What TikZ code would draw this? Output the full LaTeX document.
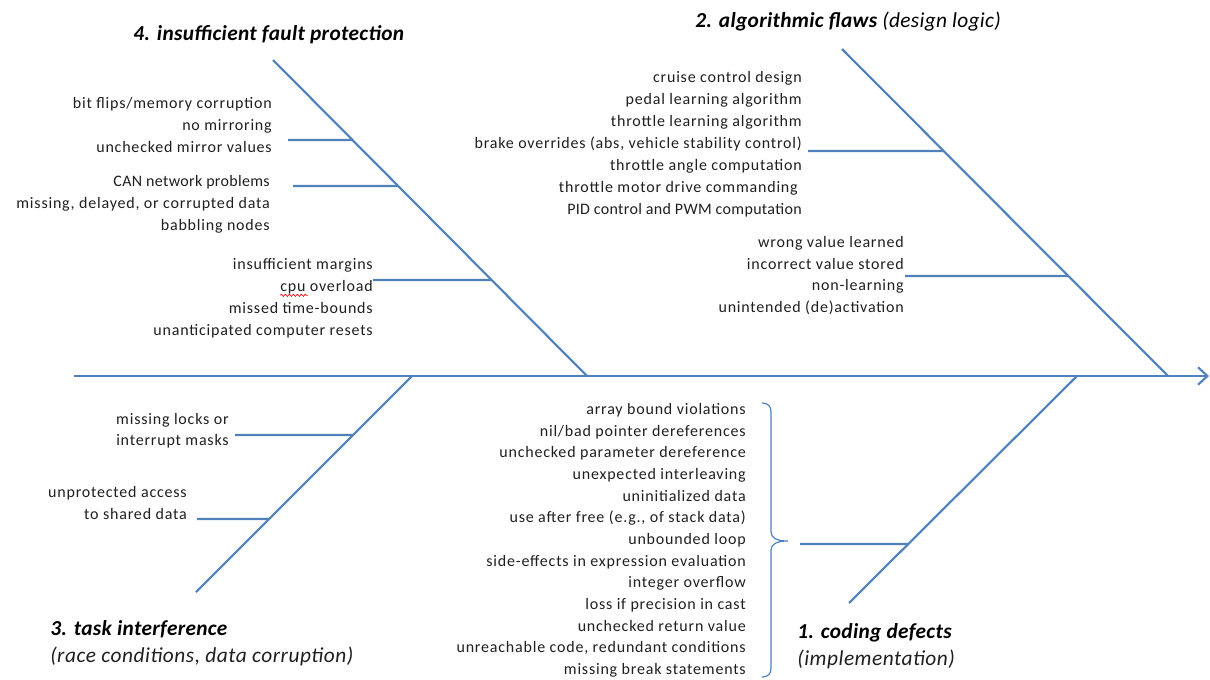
\documentclass[tikz,border=0pt]{standalone}
\usepackage{fontspec}
\setmainfont{Carlito}
\newfontfamily\lblfont[LetterSpace=5]{Carlito}
\newfontfamily\lblfontb[LetterSpace=2]{Carlito}
\newfontfamily\ttlfont[LetterSpace=1.5]{Carlito}
\newfontfamily\subfont[LetterSpace=2.5]{Carlito}
\usetikzlibrary{arrows.meta,calc,decorations.pathmorphing}
\definecolor{bone}{HTML}{4F81BD}
\definecolor{txt}{HTML}{1F1F1F}
\begin{document}
\begin{tikzpicture}[x=0.75pt,y=-0.75pt,
  boneline/.style={draw=bone,line width=1.6pt},
  twig/.style={draw=bone,line width=1.6pt},
  bracel/.style={draw=bone,line width=0.9pt},
  lbl/.style={anchor=east,inner sep=0pt,text=txt,font=\lblfont\fontsize{12pt}{14pt}\selectfont,text height=0.72em,text depth=0.22em,yshift=-1.5pt},
  lblcaps/.style={lbl,font=\lblfontb\fontsize{12pt}{14pt}\selectfont},
  ttl/.style={anchor=west,inner sep=0pt,text=black,font=\ttlfont\fontsize{16pt}{19pt}\selectfont\bfseries\itshape,yshift=-1.2pt},
  subttl/.style={anchor=west,inner sep=0pt,text=txt,font=\subfont\fontsize{16pt}{19pt}\selectfont\itshape,yshift=-1pt}]
\useasboundingbox (0,0) rectangle (1210,679);
% spine and bones
\coordinate (sp0) at (74,376); \coordinate (sp1) at (1209,376);
\coordinate (b4t) at (273,60);  \coordinate (b4b) at (587,376);
\coordinate (b2t) at (842,49);  \coordinate (b2b) at (1168,376);
\coordinate (b3t) at (412,376); \coordinate (b3b) at (196,592);
\coordinate (b1t) at (1077,376); \coordinate (b1b) at (849,603);
\draw[boneline,-{Straight Barb[length=7pt,width=13pt]}] (sp0) -- (sp1);
\draw[boneline] (b4t) -- (b4b);
\draw[boneline] (b2t) -- (b2b);
\draw[boneline] (b3t) -- (b3b);
\draw[boneline] (b1t) -- (b1b);
% twigs
\coordinate (t4a) at (288,140); \coordinate (j4a) at ($(b4t)!0.2532!(b4b)$);
\coordinate (t4b) at (293,186); \coordinate (j4b) at ($(b4t)!0.3987!(b4b)$);
\coordinate (t4c) at (373,280); \coordinate (j4c) at ($(b4t)!0.6962!(b4b)$);
\coordinate (t2a) at (808,151); \coordinate (j2a) at ($(b2t)!0.3119!(b2b)$);
\coordinate (t2b) at (905,276); \coordinate (j2b) at ($(b2t)!0.6942!(b2b)$);
\coordinate (t3a) at (235,435); \coordinate (j3a) at ($(b3t)!0.2731!(b3b)$);
\coordinate (t3b) at (197,519); \coordinate (j3b) at ($(b3t)!0.6620!(b3b)$);
\coordinate (t1a) at (800,544); \coordinate (j1a) at ($(b1t)!0.7401!(b1b)$);
\foreach \a/\b in {t4a/j4a,t4b/j4b,t4c/j4c,t2a/j2a,t2b/j2b,t3a/j3a,t3b/j3b,t1a/j1a}
  \draw[twig] (\a) -- (\b);
% titles
\node[ttl] (h4) at (133,33) {4. insufficient fault protection};
\node[ttl] (h2) at (695,20) {2. algorithmic flaws \textmd{(design logic)}};
\node[ttl] (h3) at (50,628) {3. task interference};
\node[subttl] (h3s) at (50,655) {(race conditions, data corruption)};
\node[ttl] (h1) at (797,631) {1. coding defects};
\node[subttl] (h1s) at (797,658) {(implementation)};
% bone 4 labels
\foreach \t [count=\i from 0] in {{bit flips/memory corruption},{no mirroring},{unchecked mirror values}}
  \node[lbl] (g4a\i) at (272,103+22*\i) {\t};
\node[lblcaps] (g4b0) at (270,181) {CAN network problems};
\node[lbl] (g4b1) at (270,203) {missing, delayed, or corrupted data};
\node[lbl] (g4b2) at (270,225) {babbling nodes};
\foreach \t [count=\i from 0] in {{insufficient margins},{cpu overload},{missed time-bounds},{unanticipated computer resets}}
  \node[lbl] (g4c\i) at (373,264+22*\i) {\t};
\draw[red,line width=0.5pt,decorate,decoration={snake,amplitude=0.8pt,segment length=3pt}]
  ($(g4c1.base west)+(0,4)$) -- ++(28,0);
% bone 2 labels
\foreach \t [count=\i from 0] in {{cruise control design},{pedal learning algorithm},{throttle learning algorithm},{brake overrides (abs, vehicle stability control)},{throttle angle computation}}
  \node[lbl] (g2a\i) at (802,77+22*\i) {\t};
\node[lbl] (g2a5) at (798,187) {throttle motor drive commanding};
\node[lblcaps] (g2a6) at (802,209) {PID control and PWM computation};
\foreach \t [count=\i from 0] in {{wrong value learned},{incorrect value stored},{non-learning},{unintended (de)activation}}
  \node[lbl] (g2b\i) at (904,242+21.8*\i) {\t};
% bone 3 labels
\node[lbl] (g3a0) at (229,419) {missing locks or};
\node[lbl] (g3a1) at (229,440) {interrupt masks};
\node[lbl] (g3b0) at (187,492) {unprotected access};
\node[lbl] (g3b1) at (187,514) {to shared data};
% bone 1 labels
\foreach \t [count=\i from 0] in {{array bound violations},{nil/bad pointer dereferences},{unchecked parameter dereference},{unexpected interleaving},{uninitialized data},{use after free (e.g., of stack data)},{unbounded loop},{side-effects in expression evaluation},{integer overflow},{loss if precision in cast},{unchecked return value},{unreachable code, redundant conditions},{missing break statements}}
  \node[lbl] (g1\i) at (746,409+21.67*\i) {\t};
% brace
\draw[bracel] (762,403) .. controls (768,403) and (771,406) .. (771,412) -- (771,532)
  .. controls (771,538) and (777,541) .. (788,541)
  .. controls (777,541) and (771,544) .. (771,550) -- (771,668)
  .. controls (771,674) and (768,677) .. (762,677);
\end{tikzpicture}
\end{document}
